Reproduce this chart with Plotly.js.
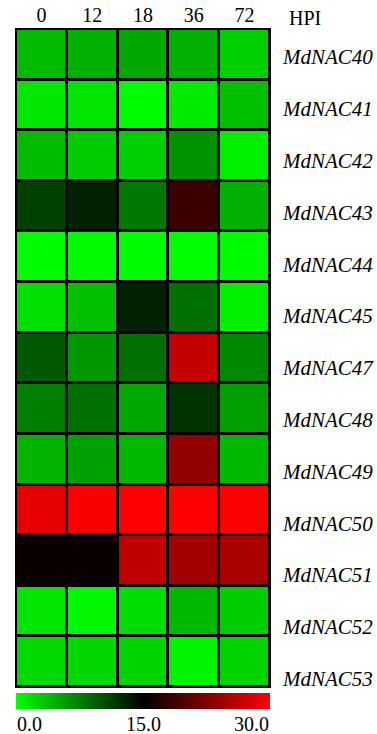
<!DOCTYPE html>
<html>
<head>
<meta charset="utf-8">
<script src="https://cdn.plot.ly/plotly-3.0.1.min.js"></script>
<style>html,body{margin:0;padding:0;background:#fff;}#chart{width:377px;height:734px;}</style>
</head>
<body>
<div id="chart"></div>
<script>
const hpi = ['0','12','18','36','72'];
const genes = ['MdNAC40','MdNAC41','MdNAC42','MdNAC43','MdNAC44','MdNAC45','MdNAC47','MdNAC48','MdNAC49','MdNAC50','MdNAC51','MdNAC52','MdNAC53'];
const MdNAC40 = [4.0, 4.6, 5.1, 4.6, 2.8];
const MdNAC41 = [1.4, 1.5, 0.2, 1.2, 3.7];
const MdNAC42 = [4.0, 3.0, 2.8, 6.4, 0.9];
const MdNAC43 = [11.2, 13.0, 7.9, 18.4, 4.6];
const MdNAC44 = [0.2, 0.3, 0.2, 0.1, 0.2];
const MdNAC45 = [1.8, 3.7, 13.0, 8.4, 0.9];
const MdNAC47 = [9.8, 6.1, 8.4, 26.5, 7.0];
const MdNAC48 = [7.5, 8.4, 5.1, 12.0, 5.6];
const MdNAC49 = [4.4, 5.6, 4.2, 23.6, 4.2];
const MdNAC50 = [28.5, 29.7, 30.0, 30.0, 29.9];
const MdNAC51 = [15.6, 15.6, 26.2, 24.4, 25.0];
const MdNAC52 = [1.5, 0.4, 2.0, 4.2, 2.9];
const MdNAC53 = [2.2, 2.3, 2.5, 0.6, 2.5];
const cbTickVals = [0, 15, 30];
const cbTickText = ['0.0', '15.0', '30.0'];
const extraLabel = 'HPI';

const z = [MdNAC40, MdNAC41, MdNAC42, MdNAC43, MdNAC44, MdNAC45, MdNAC47, MdNAC48, MdNAC49, MdNAC50, MdNAC51, MdNAC52, MdNAC53];

const serif = 'Liberation Serif';
const W = 377, H = 734;
const mL = 16, mR = 107, mT = 29, mB = 47;
const plotH = H - mT - mB;

const heat = {
  type: 'heatmap',
  x: hpi, y: genes, z: z,
  zmin: 0, zmax: 30,
  colorscale: [[0, 'rgb(0,255,0)'], [0.5, 'rgb(0,0,0)'], [1, 'rgb(255,0,0)']],
  xgap: 3, ygap: 3,
  hoverinfo: 'skip',
  colorbar: {
    orientation: 'h',
    x: 0.5, xanchor: 'center', xref: 'paper',
    y: -(6 / plotH), yanchor: 'top', yref: 'paper',
    len: 1, lenmode: 'fraction',
    thickness: 16, thicknessmode: 'pixels',
    xpad: 0, ypad: 0,
    outlinewidth: 0,
    tickvals: cbTickVals,
    showticklabels: false,
    ticks: ''
  }
};

const labelTrace = {
  type: 'scatter', mode: 'markers',
  x: genes.map(() => hpi[0]),
  y: genes.map((g, i) => i),
  yaxis: 'y2',
  marker: {opacity: 0, size: 1},
  hoverinfo: 'skip', showlegend: false
};

const annotations = cbTickText.map((t, i) => ({
  text: t, xref: 'paper', yref: 'paper',
  x: cbTickVals[i] / 30, y: -(37 / plotH),
  xanchor: i === 0 ? 'left' : (i === cbTickText.length - 1 ? 'right' : 'center'),
  yanchor: 'middle', showarrow: false, borderpad: 0,
  font: {family: serif, size: 20, color: '#000'}
}));
annotations.push({
  text: extraLabel, xref: 'paper', yref: 'paper',
  x: 1 + (304.5 - (W - mR)) / (W - mL - mR), y: 1 + 11 / plotH,
  xanchor: 'center', yanchor: 'middle', showarrow: false,
  font: {family: serif, size: 20, color: '#000'}
});

const layout = {
  width: W, height: H,
  margin: {l: mL, r: mR, t: mT, b: mB, pad: 0},
  paper_bgcolor: '#fff', plot_bgcolor: '#000',
  showlegend: false,
  font: {family: serif, size: 20, color: '#000'},
  xaxis: {
    side: 'top', type: 'category',
    showgrid: false, zeroline: false, ticks: '',
    tickfont: {family: serif, size: 20, color: '#000'},
    ticklabelstandoff: 2,
    showline: false
  },
  yaxis: {
    type: 'category', autorange: 'reversed',
    showgrid: false, zeroline: false, ticks: '', showticklabels: false
  },
  yaxis2: {
    overlaying: 'y', side: 'right', type: 'linear',
    range: [12.162, -0.5405],
    tickmode: 'array', tickvals: genes.map((g, i) => i), ticktext: genes,
    showgrid: false, zeroline: false, ticks: '',
    tickfont: {family: serif, size: 21, style: 'italic', color: '#000'},
    ticklabelstandoff: 12
  },
  shapes: [{
    type: 'rect', xref: 'paper', yref: 'paper', x0: 0, x1: 1, y0: 0, y1: 1,
    line: {color: '#000', width: 2}, fillcolor: 'rgba(0,0,0,0)'
  }],
  annotations: annotations
};

Plotly.newPlot('chart', [heat, labelTrace], layout, {displayModeBar: false, staticPlot: true});
</script>
</body>
</html>
